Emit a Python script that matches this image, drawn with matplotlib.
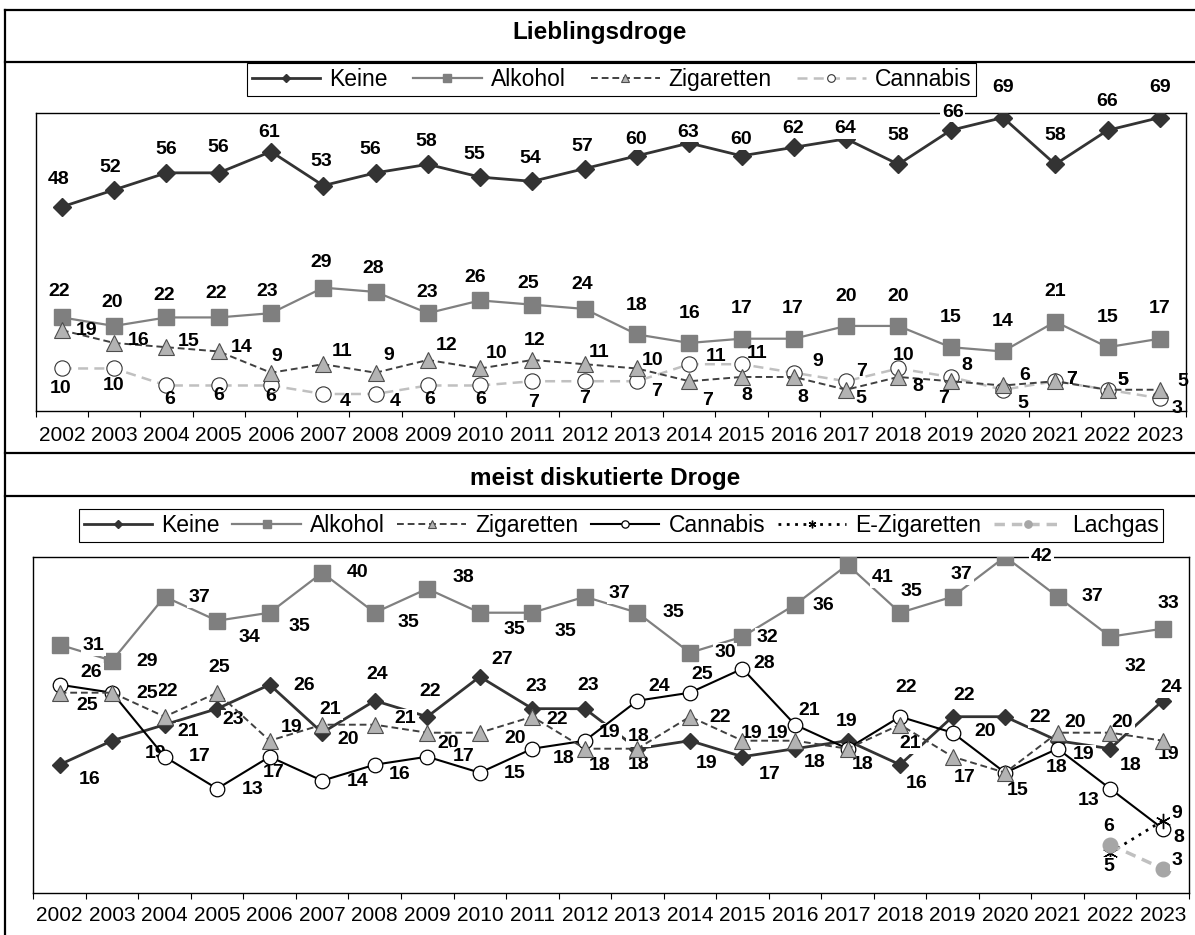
import numpy as np
import matplotlib.pyplot as plt
from matplotlib.lines import Line2D

plt.rcParams['font.family'] = ['Liberation Sans', 'DejaVu Sans']

years = [str(y) for y in range(2002, 2024)]
nan = float('nan')

# Lieblingsdroge (%)
fav_keine = [48, 52, 56, 56, 61, 53, 56, 58, 55, 54, 57, 60, 63, 60, 62, 64, 58, 66, 69, 58, 66, 69]
fav_alkohol = [22, 20, 22, 22, 23, 29, 28, 23, 26, 25, 24, 18, 16, 17, 17, 20, 20, 15, 14, 21, 15, 17]
fav_zigaretten = [19, 16, 15, 14, 9, 11, 9, 12, 10, 12, 11, 10, 7, 8, 8, 5, 8, 7, 6, 7, 5, 5]
fav_cannabis = [10, 10, 6, 6, 6, 4, 4, 6, 6, 7, 7, 7, 11, 11, 9, 7, 10, 8, 5, 7, 5, 3]

# meist diskutierte Droge (%)
dis_keine = [16, 19, 21, 23, 26, 20, 24, 22, 27, 23, 23, 18, 19, 17, 18, 19, 16, 22, 22, 19, 18, 24]
dis_alkohol = [31, 29, 37, 34, 35, 40, 35, 38, 35, 35, 37, 35, 30, 32, 36, 41, 35, 37, 42, 37, 32, 33]
dis_zigaretten = [25, 25, 22, 25, 19, 21, 21, 20, 20, 22, 18, 18, 22, 19, 19, 18, 21, 17, 15, 20, 20, 19]
dis_cannabis = [26, 25, 17, 13, 17, 14, 16, 17, 15, 18, 19, 24, 25, 28, 21, 18, 22, 20, 15, 18, 13, 8]
dis_ezig = [nan] * 20 + [5, 9]
dis_lachgas = [nan] * 20 + [6, 3]

# label offsets from the marker in pixels (right, up)
fav_keine_off = [(-3, 27), (-4, 22), (0, 23), (0, 25), (-2, 19), (-2, 24), (-5, 23), (-2, 23),
                 (-6, 23), (-2, 23), (-2, 22), (-1, 16), (-1, 11), (-1, 16), (-1, 19), (-1, 10),
                 (0, 29), (2, 18), (0, 30), (0, 29), (0, 29), (0, 30)]
fav_alkohol_off = [(-3, 26), (-2, 23), (-2, 22), (-3, 24), (-4, 22), (-2, 25), (-2, 23), (-1, 21),
                   (-5, 23), (-4, 21), (-3, 24), (0, 29), (0, 29), (0, 30), (-1, 30), (0, 29),
                   (0, 29), (0, 30), (0, 30), (0, 30), (0, 30), (0, 30)]
fav_zig_off = [(25, 0), (24, 2), (22, 6), (23, 4), (6, 16), (19, 13), (13, 17), (19, 14),
               (16, 15), (2, 19), (14, 12), (16, 8), (18, -19), (5, -19), (9, -21), (15, -9),
               (19, -10), (-7, -17), (22, 10), (16, 2), (15, 9), (23, 8)]
fav_can_off = [(-1, -20), (-1, -17), (3, -14), (0, -10), (0, -11), (22, -8), (20, -8), (2, -14),
               (1, -14), (1, -21), (0, -17), (20, -10), (27, 8), (15, 11), (24, 11), (15, 10),
               (5, 13), (16, 11), (20, -14), (16, 2), (15, 9), (17, -10)]

dis_keine_off = [(30, -15), (43, -13), (24, -7), (16, -11), (34, -1), (26, -7), (2, 26), (3, 25),
                 (22, 17), (4, 22), (3, 23), (1, -16), (17, -23), (27, -18), (20, -14), (-1, 19),
                 (17, -19), (12, 21), (35, -1), (26, -14), (20, -17), (8, 13)]
dis_alkohol_off = [(34, -1), (35, -1), (35, -1), (32, -17), (30, -14), (35, 0), (34, -10), (36, 11),
                   (35, -17), (33, -19), (35, 3), (36, 0), (35, 0), (25, -1), (28, -1), (35, -13),
                   (11, 21), (9, 22), (36, 0), (35, 0), (25, -30), (6, 25)]
dis_zig_off = [(28, -13), (35, -1), (2, 25), (2, 25), (22, 13), (8, 15), (30, 6), (21, -11),
               (35, -6), (25, -3), (15, -17), (1, 12), (30, -1), (9, 7), (-17, 7), (15, -16),
               (10, -19), (12, -21), (12, -18), (17, 10), (12, 10), (6, -14)]
dis_can_off = [(32, 12), (35, -1), (35, 0), (35, -1), (4, -16), (35, -1), (25, -10), (36, 0),
               (35, -1), (31, -10), (25, 8), (22, 14), (12, 18), (22, 5), (14, 14), (15, -16),
               (6, 29), (33, 1), (12, -18), (-1, -19), (-22, -12), (16, -9)]
dis_ezig_off = [None] * 20 + [(-1, -14), (14, 7)]
dis_lach_off = [None] * 20 + [(-2, 18), (14, 8)]

W, H = 1195, 935
fig = plt.figure(figsize=(W / 100, H / 100), dpi=100)


def px_box(x0, y0, x1, y1):
    # pixel box (top-left origin) -> figure fraction rect
    return [x0 / W, 1 - y1 / H, (x1 - x0) / W, (y1 - y0) / H]


def frame_line(xs, ys):
    fig.add_artist(Line2D([x / W for x in xs], [1 - y / H for y in ys],
                          color='black', lw=1.6, transform=fig.transFigure))


x = np.arange(len(years))


def style_axis(ax, ymax, pad):
    ax.set_xlim(-0.5, len(years) - 0.5)
    ax.set_ylim(0, ymax)
    ax.set_yticks([])
    ax.set_xticks(np.arange(-0.5, len(years)))
    ax.set_xticks(x, labels=years, minor=True)
    ax.tick_params(axis='x', which='major', direction='out', length=4.3, width=0.8,
                   labelbottom=False)
    ax.tick_params(axis='x', which='minor', length=0, pad=pad, labelsize=15)
    for s in ax.spines.values():
        s.set_linewidth(1.0)
        s.set_color('black')


def value_labels(ax, values, offsets, boxed, z):
    for i, (v, off) in enumerate(zip(values, offsets)):
        if off is None or np.isnan(v):
            continue
        bbox = dict(boxstyle='square,pad=0.08', fc='white', ec='none') if boxed else None
        ax.annotate(f'{v:g}', (i, v), xytext=off, textcoords='offset pixels',
                    ha='center', va='center', fontsize=14, fontweight='bold',
                    bbox=bbox, zorder=z, annotation_clip=False)


# ---- Lieblingsdroge ----
ax1 = fig.add_axes(px_box(35.7, 113.3, 1186, 411))
ax1.plot(x, fav_keine, color='#333333', lw=2.0, marker='D', ms=8.8, mfc='#333333',
         mec='#333333', zorder=3, label='Keine')
ax1.plot(x, fav_alkohol, color='#808080', lw=1.6, marker='s', ms=11.5, mfc='#7f7f7f',
         mec='#7f7f7f', zorder=3, label='Alkohol')
ax1.plot(x, fav_cannabis, color='#c0c0c0', lw=1.8, ls=(0, (4, 2.5)), marker='o', ms=11,
         mfc='white', mec='#333333', mew=0.8, zorder=4, label='Cannabis')
ax1.plot(x, fav_zigaretten, color='#404040', lw=1.4, ls=(0, (3.5, 2)), marker='^', ms=11.5,
         mfc='#b3b3b3', mec='#4d4d4d', mew=0.8, zorder=5, label='Zigaretten')
style_axis(ax1, 70, 11)

value_labels(ax1, fav_keine, fav_keine_off, True, 6)
value_labels(ax1, fav_alkohol, fav_alkohol_off, False, 6)
value_labels(ax1, fav_zigaretten, fav_zig_off, False, 6)
value_labels(ax1, fav_cannabis, fav_can_off, False, 6)

h1, l1 = ax1.get_legend_handles_labels()
order1 = [l1.index(n) for n in ['Keine', 'Alkohol', 'Zigaretten', 'Cannabis']]
leg1 = fig.legend([h1[i] for i in order1], [l1[i] for i in order1], loc='center',
                  bbox_to_anchor=px_box(247, 63, 976, 96), mode='expand', ncol=4,
                  fontsize=16.5, handlelength=3.0, handletextpad=0.4, markerscale=0.5,
                  fancybox=False, borderpad=0.2, borderaxespad=0, framealpha=1)
leg1.get_frame().set_edgecolor('black')
leg1.get_frame().set_linewidth(0.8)

# ---- meist diskutierte Droge ----
ax2 = fig.add_axes(px_box(33.3, 556.7, 1189, 892.7))
ax2.plot(x, dis_keine, color='#333333', lw=2.0, marker='D', ms=8.4, mfc='#333333',
         mec='#333333', zorder=3, label='Keine')
ax2.plot(x, dis_alkohol, color='#808080', lw=1.6, marker='s', ms=11.5, mfc='#7f7f7f',
         mec='#7f7f7f', zorder=3, label='Alkohol')
ax2.plot(x, dis_cannabis, color='black', lw=1.5, marker='o', ms=10.5, mfc='white',
         mec='black', mew=0.9, zorder=6, label='Cannabis')
ax2.plot(x, dis_zigaretten, color='#404040', lw=1.4, ls=(0, (3.5, 2)), marker='^', ms=11.5,
         mfc='#b3b3b3', mec='#4d4d4d', mew=0.8, zorder=7, label='Zigaretten')
ax2.plot(x, dis_ezig, color='black', lw=2, ls=(0, (1, 2)), marker=(6, 2, 0), ms=11,
         mec='black', mew=1.0, zorder=8, label='E-Zigaretten')
ax2.plot(x, dis_lachgas, color='#c0c0c0', lw=2.5, ls=(0, (3, 2)), marker='o', ms=10.5,
         mfc='#a6a6a6', mec='#a6a6a6', zorder=8, label='Lachgas')
style_axis(ax2, 42, 9.5)

value_labels(ax2, dis_keine, dis_keine_off, True, 5)
value_labels(ax2, dis_alkohol, dis_alkohol_off, True, 5)
value_labels(ax2, dis_zigaretten, dis_zig_off, True, 5)
value_labels(ax2, dis_cannabis, dis_can_off, True, 5)
value_labels(ax2, dis_ezig, dis_ezig_off, True, 9)
value_labels(ax2, dis_lachgas, dis_lach_off, True, 9)

h2, l2 = ax2.get_legend_handles_labels()
names2 = ['Keine', 'Alkohol', 'Zigaretten', 'Cannabis', 'E-Zigaretten', 'Lachgas']
order2 = [l2.index(n) for n in names2]
leg2 = fig.legend([h2[i] for i in order2], [l2[i] for i in order2], loc='center',
                  bbox_to_anchor=px_box(79, 508, 1163, 543), mode='expand', ncol=6,
                  fontsize=16.5, handlelength=3.0, handletextpad=0.4, markerscale=0.5,
                  fancybox=False, borderpad=0.2, borderaxespad=0, framealpha=1)
leg2.get_frame().set_edgecolor('black')
leg2.get_frame().set_linewidth(0.8)

# ---- outer table frame and section titles ----
for y in (10, 62, 453, 496):
    frame_line([5, W], [y, y])
frame_line([5, 5], [10, H])

fig.text(600 / W, 1 - 39.5 / H, 'Lieblingsdroge', ha='center', va='baseline',
         fontsize=17.5, fontweight='bold')
fig.text(605 / W, 1 - 484.5 / H, 'meist diskutierte Droge', ha='center', va='baseline',
         fontsize=17.5, fontweight='bold')

fig.savefig('out.png', dpi=100)
